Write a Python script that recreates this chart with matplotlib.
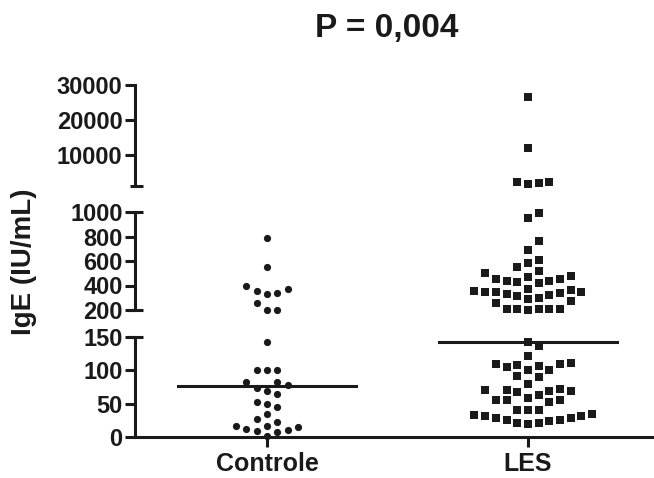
import numpy as np
import matplotlib
matplotlib.use('Agg')
import matplotlib.pyplot as plt

plt.rcParams['font.family'] = ['Liberation Sans', 'DejaVu Sans']
plt.rcParams['font.weight'] = 'bold'

groups = ['Controle', 'LES']
title = 'P = 0,004'
ylabel = 'IgE (IU/mL)'

controle = [790, 555, 395, 355, 330, 335, 370, 260, 198, 198,
            142, 100, 100, 100, 78, 82, 82, 73, 69, 64, 52, 50, 45, 35,
            27, 23, 16, 12, 9, 2, 7, 11, 15, 17]
les = [26500, 12000, 2150, 1500, 1800, 2250,
       990, 950, 760, 690, 610, 580, 550, 515, 505, 475, 455, 455, 470,
       440, 435, 425, 420, 372, 350, 345, 322, 356, 360, 330, 314, 336,
       344, 294, 272, 286, 261, 211, 208, 208, 198, 211, 208,
       142, 136, 121, 110, 110, 105, 101, 106, 108, 111, 100, 90, 91, 79,
       72, 70, 71, 69, 69, 55, 55, 63, 55, 59, 68, 53, 40, 40, 41,
       33, 31, 28, 25, 21, 20, 21, 24, 26, 29, 31, 34]
medians = [77, 142]

# axis segments
seg_lims = [(0, 150), (200, 1000), (1000, 30000)]
seg_ticks = [[0, 50, 100, 150], [200, 400, 600, 800, 1000], [10000, 20000, 30000]]

ink = '#1a1a1a'
W, H = 654, 478
fig = plt.figure(figsize=(W / 100, H / 100), dpi=100)

left_px, right_px = 135, 654
seg_px = [(437, 337), (310, 212), (186, 85)]  # bottom, top in pixels from top
axes = []
for (b, t) in seg_px:
    ax = fig.add_axes([left_px / W, (H - b) / H, (right_px - left_px) / W, (b - t) / H])
    axes.append(ax)

xlim = (0.494, 2.483)
lw = 2.2
for i, ax in enumerate(axes):
    ax.set_xlim(*xlim)
    ax.set_ylim(*seg_lims[i])
    ax.set_yticks(seg_ticks[i])
    ax.set_yticklabels([str(t) for t in seg_ticks[i]])
    ax.patch.set_visible(False)
    for s in ['top', 'right']:
        ax.spines[s].set_visible(False)
    ax.spines['left'].set_linewidth(lw)
    ax.spines['left'].set_color(ink)
    ax.tick_params(axis='y', direction='out', length=7, width=lw, color=ink,
                   labelsize=17, pad=2, labelcolor=ink)
    if i == 0:
        ax.spines['bottom'].set_linewidth(lw)
        ax.spines['bottom'].set_color(ink)
        ax.set_xticks([1, 2])
        ax.set_xticklabels(groups)
        ax.tick_params(axis='x', direction='out', length=7, width=lw, color=ink,
                       labelsize=18, pad=4, labelcolor=ink)
    else:
        ax.spines['bottom'].set_visible(False)
        ax.set_xticks([])

# end caps on broken segments
axw = right_px - left_px
caps = [(0, 1.0, -7), (1, 0.0, -7), (1, 1.0, -7), (2, 0.0, -5)]
for i, yf, lpx in caps:
    axes[i].plot([lpx / axw, 8 / axw], [yf, yf], color=ink, lw=lw,
                 transform=axes[i].transAxes, clip_on=False, solid_capstyle='butt')

def seg_of(v):
    if v <= 175:
        return 0
    if v <= 1000:
        return 1
    return 2

def pix(v):
    ax = axes[seg_of(v)]
    return ax.transData.transform((1, v))[1]

px_per_unit = axw / (xlim[1] - xlim[0])

def swarm(values, step_px, min_dy):
    yp = [pix(v) for v in values]
    order = np.argsort(yp)
    placed = {}
    ks = np.zeros(len(values))
    cands = [0] + [s * j for j in range(1, 30) for s in (1, -1)]
    for i in order:
        for k in cands:
            if all(abs(yp[i] - yy) >= min_dy for yy in placed.get(k, [])):
                break
        placed.setdefault(k, []).append(yp[i])
        ks[i] = k
    return ks * step_px / px_per_unit

styles = [dict(marker='o', markersize=5.2), dict(marker='s', markersize=5.8)]
steps = [10.4, 10.7]
min_dys = [9.5, 10.5]
for g, vals in enumerate([controle, les]):
    vals = np.array(vals, dtype=float)
    offs = swarm(vals, steps[g], min_dys[g])
    segs = np.array([seg_of(v) for v in vals])
    for i, ax in enumerate(axes):
        m = segs == i
        ax.plot(g + 1 + offs[m], vals[m], linestyle='none', color=ink,
                markeredgewidth=0, clip_on=False, **styles[g])
    # median line
    axes[0].plot([g + 1 - 0.34, g + 1 + 0.34], [medians[g], medians[g]],
                 color=ink, lw=lw, clip_on=False)

fig.text(387 / W, 1 - 28 / H, title, ha='center', va='center',
         fontsize=24, fontweight='bold', color=ink)
fig.text(24 / W, 1 - 262 / H, ylabel, ha='center', va='center', rotation=90,
         fontsize=20, fontweight='bold', color=ink)

fig.savefig('out.png', dpi=100)
